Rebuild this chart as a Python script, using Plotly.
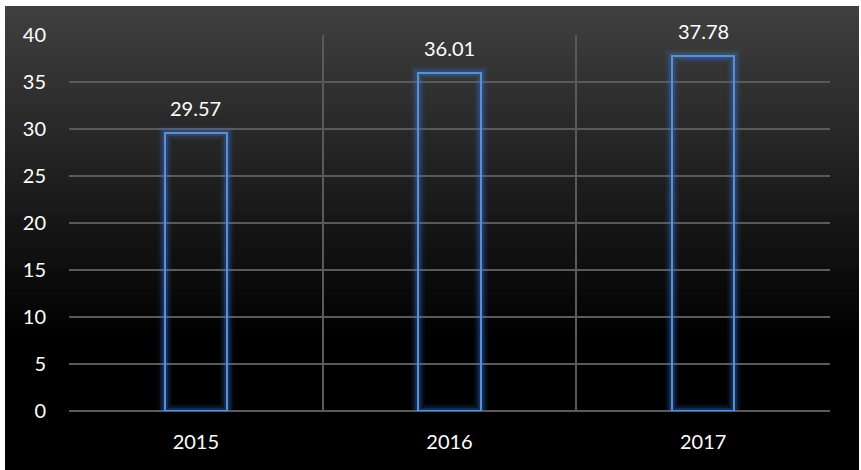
import plotly.graph_objects as go

categories = ["2015", "2016", "2017"]
values = [29.57, 36.01, 37.78]
value_labels = ["29.57", "36.01", "37.78"]
y_ticks = [0, 5, 10, 15, 20, 25, 30, 35, 40]

W, H = 861, 470
ML, MR, MT, MB = 69, 31, 35, 59
PW, PH = W - ML - MR, H - MT - MB

def px_to_paper_x(px):
    return (px - ML) / PW

def px_to_paper_y(py):
    return (H - MB - py) / PH

fig = go.Figure()

line_blue = "#5a8fd8"
# glow layers
for w, a in [(14, 0.07), (10, 0.12), (6, 0.22)]:
    fig.add_trace(go.Bar(
        x=categories, y=values, width=0.245,
        marker=dict(color="rgba(0,0,0,0)", line=dict(color=f"rgba(60,120,220,{a})", width=w)),
        hoverinfo="skip", showlegend=False,
    ))
fig.add_trace(go.Bar(
    x=categories, y=values, width=0.245,
    marker=dict(color="rgba(0,0,0,0)", line=dict(color=line_blue, width=2)),
    showlegend=False,
))

# data labels
for i, (v, t) in enumerate(zip(values, value_labels)):
    fig.add_annotation(x=i, y=v, xref="x", yref="y", text=t, showarrow=False,
                       yanchor="bottom", yshift=11,
                       font=dict(color="white", size=20))

# gradient background (overlapping bands, no seams)
shapes = []
top_px, bot_px, left_px, right_px = 6, 470, 5, 859
N = 80
for i in range(N):
    y0p = top_px + (bot_px - top_px) * i / N
    frac = (i + 0.5) / N
    g = max(0.0, 1 - frac / 0.72)
    c = int(round(64 * g))
    shapes.append(dict(type="rect", xref="paper", yref="paper", layer="below",
                       x0=px_to_paper_x(left_px), x1=px_to_paper_x(right_px),
                       y0=px_to_paper_y(bot_px), y1=px_to_paper_y(y0p),
                       line=dict(width=0), fillcolor=f"rgb({c},{c},{c})"))

fig.update_layout(
    width=W, height=H,
    margin=dict(l=ML, r=MR, t=MT, b=MB, autoexpand=False),
    paper_bgcolor="white", plot_bgcolor="rgba(0,0,0,0)",
    barmode="overlay", bargap=0,
    shapes=shapes,
    font=dict(family="Lato, 'Open Sans', sans-serif", color="white", size=20),
    xaxis=dict(type="category", range=[-0.5, 2.5], tickson="boundaries", automargin=False,
               showgrid=True, gridcolor="#5a5a5a", gridwidth=1.5, ticks="",
               ticklabelstandoff=17, showline=False, zeroline=False,
               tickfont=dict(color="white", size=20)),
    yaxis=dict(range=[0, 40], tickvals=y_ticks, showgrid=True, gridcolor="#5a5a5a",
               automargin=False, gridwidth=1.5, zeroline=True, zerolinecolor="#5a5a5a",
               zerolinewidth=1.5, ticks="", ticklabelstandoff=22,
               tickfont=dict(color="white", size=20)),
)

fig.write_html("out.html", config={"displayModeBar": False},
               post_script="document.body.style.margin='0px';")
